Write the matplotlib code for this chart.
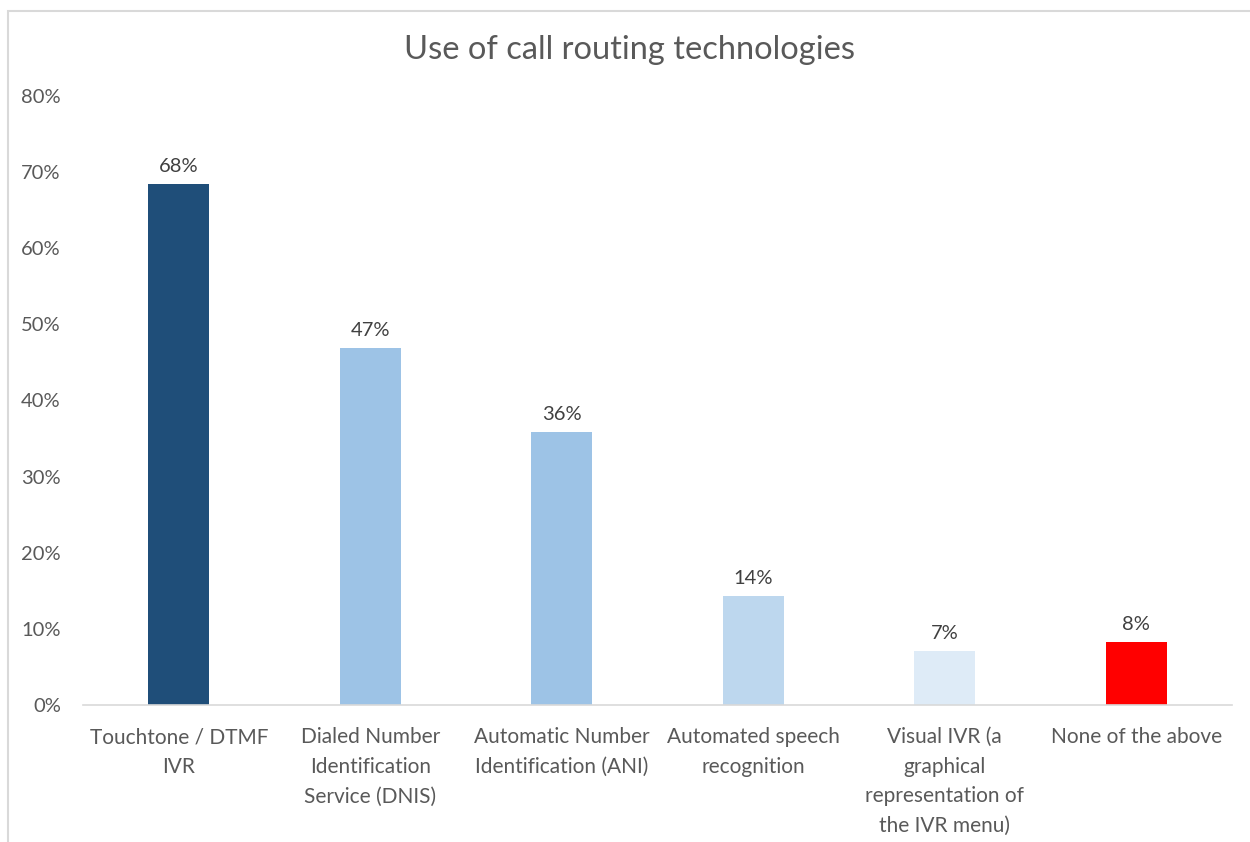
import matplotlib.pyplot as plt
from matplotlib.patches import Rectangle

# data
categories = [
    "Touchtone / DTMF\nIVR",
    "Dialed Number\nIdentification\nService (DNIS)",
    "Automatic Number\nIdentification (ANI)",
    "Automated speech\nrecognition",
    "Visual IVR (a\ngraphical\nrepresentation of\nthe IVR menu)",
    "None of the above",
]
values = [0.684, 0.469, 0.359, 0.143, 0.071, 0.083]
labels = ["68%", "47%", "36%", "14%", "7%", "8%"]
colors = ["#1F4E79", "#9DC3E6", "#9DC3E6", "#BDD7EE", "#DEEBF7", "#FF0000"]
yticks = [0, 0.1, 0.2, 0.3, 0.4, 0.5, 0.6, 0.7, 0.8]

plt.rcParams['font.family'] = ['Lato', 'DejaVu Sans']
text_color = "#595959"

fig = plt.figure(figsize=(12.5, 8.42), dpi=100)
ax = fig.add_axes([0.0664, 0.1627, 0.9192, 0.7233])

x = range(len(categories))
ax.bar(x, values, width=0.32, color=colors, zorder=2)

for i, (v, lab) in enumerate(zip(values, labels)):
    ax.text(i, v + 0.012, lab, ha="center", va="bottom",
            fontsize=14.5, color="#404040")

ax.set_xlim(-0.5, len(categories) - 0.5)
ax.set_ylim(0, 0.8)
ax.set_yticks(yticks)
ax.set_yticklabels([f"{int(round(t * 100))}%" for t in yticks])
ax.set_xticks(list(x))
ax.set_xticklabels(categories, linespacing=1.6)
ax.tick_params(axis="y", length=0, pad=16, labelsize=14.5, labelcolor=text_color)
ax.tick_params(axis="x", length=0, pad=16, labelsize=15, labelcolor=text_color)

for side in ["top", "right", "left"]:
    ax.spines[side].set_visible(False)
ax.spines["bottom"].set_color("#D9D9D9")
ax.spines["bottom"].set_linewidth(1.2)

fig.text(0.504, 0.941, "Use of call routing technologies", ha="center",
         va="center", fontsize=23.5, color=text_color)

# chart area border (cropped at bottom/right in the reference)
fig.patches.append(Rectangle((8 / 1250, -0.1), 1.2, 1.1 - 10.5 / 842,
                             transform=fig.transFigure, fill=False,
                             edgecolor="#D9D9D9", linewidth=1.5))

fig.savefig("out.png", dpi=100, facecolor="white")
